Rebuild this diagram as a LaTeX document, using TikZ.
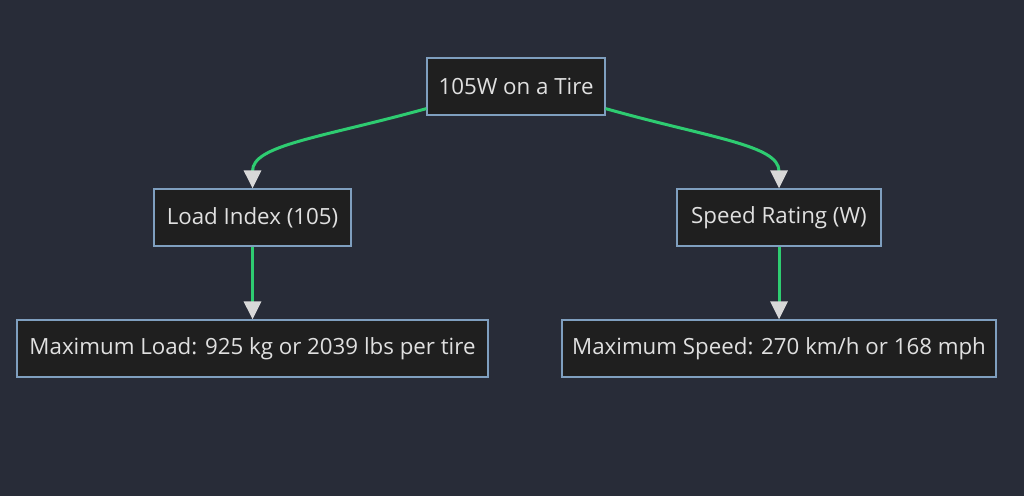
\documentclass[tikz,border=0pt]{standalone}
\usepackage{fontspec}
\setmainfont{Open Sans}
\usetikzlibrary{arrows.meta}
\definecolor{bgcol}{HTML}{282C38}
\definecolor{boxfill}{HTML}{1F1F1F}
\definecolor{boxline}{HTML}{7F9FBF}
\definecolor{linkcol}{HTML}{2ECC71}
\definecolor{tipcol}{HTML}{D8D8D8}
\definecolor{txtcol}{HTML}{E0E0E0}
\begin{document}
\begin{tikzpicture}[x=1pt,y=-1pt,
    box/.style={draw=boxline,fill=boxfill,line width=1.2pt,text=txtcol,
        minimum height=57pt,inner sep=0pt,font=\fontsize{22.3}{26}\selectfont},
    link/.style={draw=linkcol,line width=3pt,
        -{Triangle[color=tipcol,length=18pt,width=17pt]}}]
        % the dark canvas
        \fill[bgcol] (0,0) rectangle (1024,496);
        \useasboundingbox (0,0) rectangle (1024,496);

        % draw the boxes
        \node[box,minimum width=178pt] (tire) at (516,86.5) {105W on a Tire};
        \node[box,minimum width=197pt] (load) at (252.5,217.5) {Load Index (105)};
        \node[box,minimum width=204pt] (speed) at (779,217.5) {Speed Rating (W)};
        \node[box,minimum width=471pt] (maxload) at (252.5,348.5) {Maximum Load: 925 kg or 2039 lbs per tire};
        \node[box,minimum width=434pt] (maxspeed) at (779,348.5) {Maximum Speed: 270 km/h or 168 mph};

        % draw the links
        \draw[link] ([yshift=7pt]tire.south west) .. controls (320,138) and (252.5,145) .. (load.north);
        \draw[link] ([yshift=7pt]tire.south east) .. controls (710,138) and (779,145) .. (speed.north);
        \foreach \a/\b in {load/maxload, speed/maxspeed}
                \draw[link] (\a) -- (\b);

  \end{tikzpicture}
\end{document}
